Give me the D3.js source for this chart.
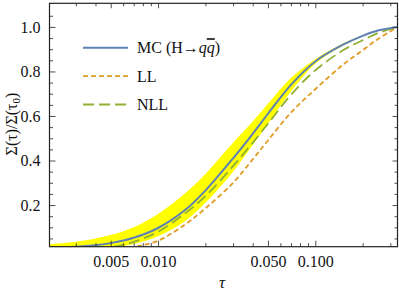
<!DOCTYPE html>
<html>
<head>
<meta charset="utf-8">
<script src="https://cdn.jsdelivr.net/npm/d3@7"></script>
<style>
  body { margin: 0; background: #fff; }
  svg { display: block; }
</style>
</head>
<body>
<script>
// tau sample points (log axis) and the curves
const tauValues = [0.00204, 0.003, 0.004, 0.005, 0.007, 0.01, 0.015, 0.02, 0.03, 0.04, 0.05, 0.07, 0.1, 0.15, 0.2, 0.25, 0.3333];
const mcValues = [0.008, 0.013, 0.02, 0.029, 0.053, 0.097, 0.18, 0.265, 0.41, 0.52, 0.61, 0.74, 0.845, 0.92, 0.96, 0.984, 1.0];
const nllValues = [-0.01, -0.004, 0.002, 0.01, 0.035, 0.08, 0.165, 0.24, 0.375, 0.48, 0.565, 0.695, 0.805, 0.895, 0.94, 0.972, 1.0];
const llValues = [-0.03, -0.02, -0.01, 0.0, 0.012, 0.04, 0.115, 0.185, 0.3, 0.405, 0.49, 0.615, 0.72, 0.83, 0.895, 0.945, 1.0];
const bandUpper = [0.024, 0.035, 0.05, 0.065, 0.1, 0.16, 0.255, 0.34, 0.48, 0.575, 0.655, 0.77, 0.855, 0.925, 0.962, 0.985, 1.0];
const bandLower = [0.0, 0.0, 0.003, 0.008, 0.025, 0.06, 0.13, 0.21, 0.35, 0.47, 0.565, 0.71, 0.835, 0.915, 0.958, 0.983, 1.0];

const xMajorTicks = [0.005, 0.01, 0.05, 0.1];
const xTickLabels = ["0.005", "0.010", "0.050", "0.100"];
const xMinorTicks = [0.003, 0.004, 0.006, 0.007, 0.008, 0.009, 0.02, 0.03, 0.04, 0.06, 0.07, 0.08, 0.09, 0.2, 0.3];
const yMajorTicks = [0.2, 0.4, 0.6, 0.8, 1.0];
const yMinorTicks = [0.05, 0.1, 0.15, 0.25, 0.3, 0.35, 0.45, 0.5, 0.55, 0.65, 0.7, 0.75, 0.85, 0.9, 0.95, 1.05];

const legendNames = ["MC", "LL", "NLL"];

const width = 399;
const height = 294;
const plotLeft = 49.5, plotRight = 397.5, plotTop = 3.3, plotBottom = 246.7;
const font = "'Liberation Serif', 'Times New Roman', serif";

const colors = { MC: "#5e81b5", LL: "#e19c24", NLL: "#8fb032" };
const dashes = { MC: null, LL: "5,3", NLL: "11,5" };

const xScale = d3.scaleLog().domain([0.00204, 1 / 3]).range([plotLeft, plotRight]);
const yScale = d3.scaleLinear().domain([0.013, 1.106]).range([plotBottom, plotTop]);

const svg = d3.select("body").append("svg")
  .attr("width", width).attr("height", height)
  .attr("viewBox", `0 0 ${width} ${height}`);

svg.append("defs").append("clipPath").attr("id", "plot")
  .append("rect").attr("x", plotLeft).attr("y", plotTop)
  .attr("width", plotRight - plotLeft).attr("height", plotBottom - plotTop);

const dataGroup = svg.append("g").attr("clip-path", "url(#plot)");

const rows = tauValues.map((t, i) => ({
  t, mc: mcValues[i], ll: llValues[i], nll: nllValues[i], hi: bandUpper[i], lo: bandLower[i]
}));

const area = d3.area()
  .x(d => xScale(d.t))
  .y0(d => yScale(d.lo))
  .y1(d => yScale(d.hi))
  .curve(d3.curveCatmullRom);

dataGroup.append("path").datum(rows)
  .attr("d", area)
  .attr("fill", "#ffff00");

const lineOf = key => d3.line()
  .x(d => xScale(d.t))
  .y(d => yScale(d[key]))
  .curve(d3.curveCatmullRom);

[["LL", "ll"], ["NLL", "nll"], ["MC", "mc"]].forEach(([name, key]) => {
  dataGroup.append("path")
    .attr("d", lineOf(key)(rows))
    .attr("fill", "none")
    .attr("stroke", colors[name])
    .attr("stroke-width", name === "MC" ? 2 : 1.8)
    .attr("stroke-dasharray", dashes[name]);
});

// frame ticks on all four sides, pointing inward
const axisGroup = svg.append("g");
const styleAxis = g => {
  g.select(".domain").remove();
  g.selectAll("line").attr("stroke", "#222").attr("stroke-width", 0.8);
  g.selectAll("text").attr("font-family", font).attr("font-size", 16).attr("fill", "#111");
};

axisGroup.append("g").attr("transform", `translate(0,${plotBottom})`)
  .call(d3.axisBottom(xScale).tickValues(xMajorTicks).tickSize(-6).tickPadding(9)
    .tickFormat((d, i) => xTickLabels[i]))
  .call(styleAxis);
axisGroup.append("g").attr("transform", `translate(0,${plotBottom})`)
  .call(d3.axisBottom(xScale).tickValues(xMinorTicks).tickSize(-3.5).tickFormat(""))
  .call(styleAxis);
axisGroup.append("g").attr("transform", `translate(0,${plotTop})`)
  .call(d3.axisTop(xScale).tickValues(xMajorTicks).tickSize(-5).tickFormat(""))
  .call(styleAxis);
axisGroup.append("g").attr("transform", `translate(0,${plotTop})`)
  .call(d3.axisTop(xScale).tickValues(xMinorTicks).tickSize(-3).tickFormat(""))
  .call(styleAxis);

axisGroup.append("g").attr("transform", `translate(${plotLeft},0)`)
  .call(d3.axisLeft(yScale).tickValues(yMajorTicks).tickSize(-6).tickPadding(9)
    .tickFormat(d3.format(".1f")))
  .call(styleAxis);
axisGroup.append("g").attr("transform", `translate(${plotLeft},0)`)
  .call(d3.axisLeft(yScale).tickValues(yMinorTicks).tickSize(-3.5).tickFormat(""))
  .call(styleAxis);
axisGroup.append("g").attr("transform", `translate(${plotRight},0)`)
  .call(d3.axisRight(yScale).tickValues(yMajorTicks).tickSize(-5).tickFormat(""))
  .call(styleAxis);
axisGroup.append("g").attr("transform", `translate(${plotRight},0)`)
  .call(d3.axisRight(yScale).tickValues(yMinorTicks).tickSize(-3).tickFormat(""))
  .call(styleAxis);

axisGroup.append("rect")
  .attr("x", plotLeft).attr("y", plotTop)
  .attr("width", plotRight - plotLeft).attr("height", plotBottom - plotTop)
  .attr("fill", "none").attr("stroke", "#222").attr("stroke-width", 1.2);

// axis titles
svg.append("text")
  .attr("x", 222).attr("y", 288)
  .attr("text-anchor", "middle")
  .attr("font-family", font).attr("font-size", 17).attr("font-style", "italic")
  .attr("fill", "#111")
  .text("τ");

const yTitle = svg.append("text")
  .attr("transform", "translate(17,124) rotate(-90)")
  .attr("text-anchor", "middle")
  .attr("font-family", font).attr("font-size", 16)
  .attr("fill", "#111");
yTitle.append("tspan").text("Σ(τ)/Σ(τ");
yTitle.append("tspan").attr("font-size", 11).attr("dy", 3).text("0");
yTitle.append("tspan").attr("dy", -3).text(")");

// legend
const legend = svg.append("g");
legendNames.forEach((name, i) => {
  const y = 47.7 + i * 28.4;
  legend.append("line")
    .attr("x1", 83).attr("x2", 128).attr("y1", y).attr("y2", y)
    .attr("stroke", colors[name]).attr("stroke-width", name === "MC" ? 2 : 1.8)
    .attr("stroke-dasharray", dashes[name]);
  const label = legend.append("text")
    .attr("x", 137).attr("y", y + 5.5)
    .attr("font-family", font).attr("font-size", 16).attr("fill", "#111");
  if (name === "MC") {
    label.append("tspan").text("MC (H→");
    label.append("tspan").attr("font-style", "italic").text("q");
    label.append("tspan").attr("font-style", "italic")
      .style("text-decoration", "overline").text("q");
    label.append("tspan").text(")");
  } else {
    label.text(name);
  }
});
</script>
</body>
</html>
